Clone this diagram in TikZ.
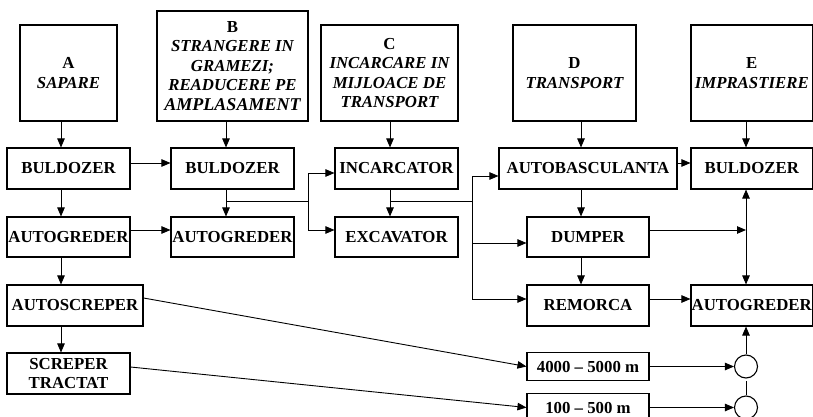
\documentclass[tikz,border=0pt]{standalone}
\usepackage{fontspec}
\setmainfont{Liberation Serif}
\usetikzlibrary{arrows.meta}
\begin{document}
\begin{tikzpicture}[x=1pt,y=-1pt,
  box/.style={draw, line width=1.1pt, inner sep=0pt, align=center,
    font=\fontsize{16.8}{19.5}\selectfont\bfseries},
  con/.style={line width=0.9pt},
  arr/.style={con, -{Triangle[length=9pt,width=7.5pt]}},
  arrb/.style={con, {Triangle[length=9pt,width=7.5pt]}-{Triangle[length=9pt,width=7.5pt]}},
  circ/.style={draw, line width=1.1pt, circle, minimum size=23pt, inner sep=0pt}]
\clip (0,0) rectangle (813,417);
\fill[white] (0,0) rectangle (813,417);
% top boxes
\node[box, minimum width=97pt, minimum height=96pt] (A) at (68.5,73) {A\\[1pt]{\itshape SAPARE}};
\node[box, minimum width=151pt, minimum height=110pt] (B) at (232.5,66) {B\\{\itshape STRANGERE IN}\\{\itshape GRAMEZI;}\\{\itshape READUCERE PE}\\{\fontsize{18}{19.5}\selectfont\itshape AMPLASAMENT}};
\node[box, minimum width=137pt, minimum height=96pt] (C) at (389.5,73) {C\\{\itshape INCARCARE IN}\\{\itshape MIJLOACE DE}\\{\itshape TRANSPORT}};
\node[box, minimum width=123pt, minimum height=96pt] (D) at (574.5,73) {D\\[1pt]{\itshape TRANSPORT}};
\node[box, minimum width=121.5pt, minimum height=96pt] (E) at (751.75,73) {E\\[1pt]{\itshape IMPRASTIERE}};
% row 1
\node[box, minimum width=123pt, minimum height=41pt] (bul1) at (68.5,168.5) {BULDOZER};
\node[box, minimum width=123pt, minimum height=41pt] (bul2) at (232.5,168.5) {BULDOZER};
\node[box, minimum width=123pt, minimum height=41pt] (inc) at (396.5,168.5) {INCARCATOR};
\node[box, minimum width=178pt, minimum height=41pt] (autob) at (588,168.5) {AUTOBASCULANTA};
\node[box, minimum width=121.5pt, minimum height=41pt] (bulE) at (751.75,168.5) {BULDOZER};
% row 2
\node[box, minimum width=123pt, minimum height=40pt] (ag1) at (68.5,237) {AUTOGREDER};
\node[box, minimum width=123pt, minimum height=40pt] (ag2) at (232.5,237) {AUTOGREDER};
\node[box, minimum width=123pt, minimum height=40pt] (exc) at (396.5,237) {EXCAVATOR};
\node[box, minimum width=122pt, minimum height=40pt] (dump) at (588,237) {DUMPER};
% row 3
\node[box, minimum width=136pt, minimum height=41pt] (ascr) at (75,305.5) {AUTOSCREPER};
\node[box, minimum width=122pt, minimum height=41pt] (rem) at (588,305.5) {REMORCA};
\node[box, minimum width=121.5pt, minimum height=41pt] (agE) at (751.75,305.5) {AUTOGREDER};
% row 4
\node[box, minimum width=123pt, minimum height=41pt] (scr) at (68.5,373.5) {SCREPER\\TRACTAT};
\node[box, minimum width=122pt, minimum height=28pt] (d1) at (588,366.5) {4000 -- 5000 m};
\node[box, minimum width=122pt, minimum height=28pt] (d2) at (588,407.5) {100 -- 500 m};
\node[circ] (c1) at (746,366.5) {};
\node[circ] (c2) at (746,407.5) {};
% helper coordinates
\coordinate (xa) at (61,0);
\coordinate (xb) at (226,0);
\coordinate (xc) at (390,0);
\coordinate (xd) at (581,0);
\coordinate (xe) at (746,0);
\coordinate (y163) at (0,163);
\coordinate (y173) at (0,173);
\coordinate (y176) at (0,176);
\coordinate (y230) at (0,230);
\coordinate (y243) at (0,243);
\coordinate (y298) at (0,298);
\coordinate (y299) at (0,299);
\coordinate (y367) at (0,367);
\coordinate (j1) at (308,201);
\coordinate (j2) at (472,201);
\coordinate (dumpend) at (746,230);
\coordinate (c2top) at (746,381);
% vertical from top boxes
\draw[arr] (A.south -| xa) -- (bul1.north -| xa);
\draw[arr] (B.south -| xb) -- (bul2.north -| xb);
\draw[arr] (C.south -| xc) -- (inc.north -| xc);
\draw[arr] (D.south -| xd) -- (autob.north -| xd);
\draw[arr] (E.south -| xe) -- (bulE.north -| xe);
% column A
\draw[arr] (bul1.east |- y163) -- (bul2.west |- y163);
\draw[arr] (bul1.south -| xa) -- (ag1.north -| xa);
\draw[arr] (ag1.east |- y230) -- (ag2.west |- y230);
\draw[arr] (ag1.south -| xa) -- (ascr.north -| xa);
\draw[arr] (ascr.south -| xa) -- (scr.north -| xa);
% column B
\draw[arr] (bul2.south -| xb) -- (ag2.north -| xb);
\draw[con] (j1 -| xb) -- (j1);
\draw[arr] (j1) |- (inc.west |- y173);
\draw[arr] (j1) |- (exc.west |- y230);
% column C
\draw[arr] (inc.south -| xc) -- (exc.north -| xc);
\draw[con] (j2 -| xc) -- (j2);
\draw[arr] (j2) |- (autob.west |- y176);
\draw[arr] (j2) |- (dump.west |- y243);
\draw[arr] (j2) |- (rem.west |- y299);
% column D
\draw[arr] (autob.east |- y163) -- (bulE.west |- y163);
\draw[arr] (autob.south -| xd) -- (dump.north -| xd);
\draw[arr] (dump.south -| xd) -- (rem.north -| xd);
\draw[arr] (dump.east |- y230) -- (dumpend);
\draw[arr] (rem.east |- y299) -- (agE.west |- y299);
% column E
\draw[arrb] (bulE.south -| xe) -- (agE.north -| xe);
\draw[arr] (c1.north) -- (agE.south -| c1.north);
\draw[con] (c2.north) -- (c2top);
% distances
\draw[arr] (ascr.east |- y298) -- (d1.west);
\draw[arr] (scr.east |- y367) -- (d2.west);
\draw[arr] (d1.east) -- (c1.west);
\draw[arr] (d2.east) -- (c2.west);
\end{tikzpicture}
\end{document}
